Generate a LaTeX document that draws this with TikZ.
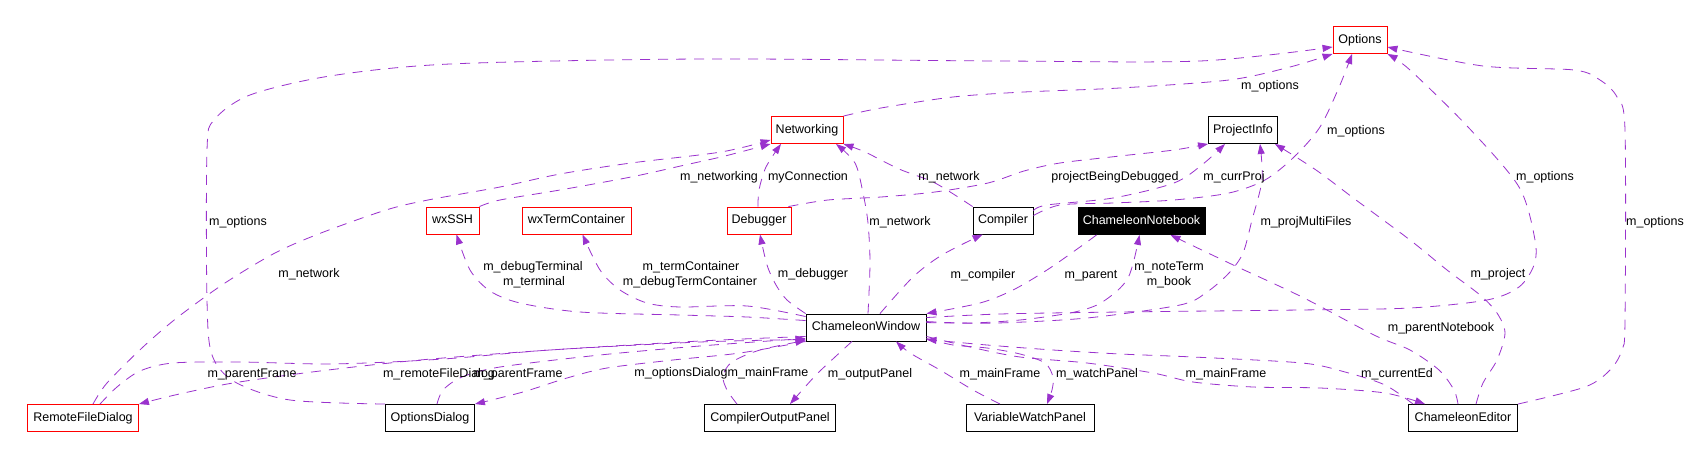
\documentclass[tikz,border=0pt]{standalone}
\usepackage{fontspec}
\setmainfont{Liberation Sans}
\usetikzlibrary{arrows.meta}
\definecolor{depcol}{HTML}{9A32CD}
\definecolor{boxred}{HTML}{FF0000}
\begin{document}
\begin{tikzpicture}[x=1pt,y=-1pt,
  font=\fontsize{12.5}{15}\selectfont,
  cls/.style={draw=black, line width=0.9pt, minimum height=27pt, inner sep=0pt, text height=9pt, text depth=2.6pt},
  redcls/.style={cls, draw=boxred},
  focus/.style={cls, fill=black, text=white},
  lbl/.style={inner sep=0pt, text height=9pt, text depth=2.6pt},
  dep/.style={draw=depcol, line width=0.8pt, dash pattern=on 10pt off 8pt, -{Triangle[length=10pt,width=7pt]}},
  sm/.style={smooth, tension=0.5}]
\path[use as bounding box, fill=white] (0,0) rectangle (1689,449);

% nodes
\node[redcls, minimum width=54pt]  (opt)   at (1360,40)    {Options};
\node[redcls, minimum width=72pt]  (net)   at (807,130)    {Networking};
\node[cls,    minimum width=69pt]  (pinfo) at (1243,130)   {ProjectInfo};
\node[redcls, minimum width=53pt]  (ssh)   at (452.5,220.5) {wxSSH};
\node[redcls, minimum width=109pt] (term)  at (576.5,220.5) {wxTermContainer};
\node[redcls, minimum width=64pt]  (dbg)   at (759,220.5)  {Debugger};
\node[cls,    minimum width=60pt]  (comp)  at (1003,220.5) {Compiler};
\node[focus,  minimum width=127pt] (nb)    at (1141.5,221) {ChameleonNotebook};
\node[cls,    minimum width=120pt] (cw)    at (866,327.5)  {ChameleonWindow};
\node[redcls, minimum width=111pt] (rfd)   at (83,418)     {RemoteFileDialog};
\node[cls,    minimum width=89pt]  (od)    at (430,418)    {OptionsDialog};
\node[cls,    minimum width=131pt] (cop)   at (770,418)    {CompilerOutputPanel};
\node[cls,    minimum width=128pt] (vwp)   at (1030,418)   {VariableWatchPanel};
\node[cls,    minimum width=109pt] (ce)    at (1463,418)   {ChameleonEditor};

% edges
\draw[dep] plot[sm] coordinates {(od.north west) (290,400) (235,382) (212,355) (207,300) (207,150) (214,120) (250,95) (330,76) (450,64) (700,59) (1000,61) (1200,61) ([shift={(0,7)}]opt.west)};
\draw[dep] plot[sm] coordinates {(net.north east) (881,108) (953,97) (1024,92) (1120,88) (1229,80) (1290,67) (opt.south west)};
\draw[dep] plot[sm] coordinates {([shift={(0,-5)}]comp.east) (1060,205) (1113,203) (1174,200) (1229,193) (1265,180) (1294,157) (1320,127) (1340,85) ([shift={(-8,0)}]opt.south)};
\draw[dep] plot[sm] coordinates {([shift={(0,4)}]cw.north east) (1000,314) (1120,312) (1300,310) (1410,308) (1487,300) (1519,287) (1534,265) (1535,240) (1519,187) (1468,127) (1410,70) (opt.south east)};
\draw[dep] plot[sm] coordinates {(ce.north east) (1585,387) (1610,370) (1622,350) (1625,320) (1625,130) (1617,97) (1600,80) (1574,70) (1483,66) ([shift={(0,7)}]opt.east)};
\draw[dep] plot[sm] coordinates {([shift={(13,0)}]ce.north) (1483,383) (1497,360) (1505,333) (1497,313) (1480,295) (1447,270) (1410,240) (1356,200) (1316,170) ([shift={(-3,0)}]pinfo.south east)};
\draw[dep] plot[sm] coordinates {([shift={(-5,0)}]ce.north) (1454,390) (1439,370) (1410,350) (1374,335) (1302,297) (1229,263) ([shift={(-35,0)}]nb.south east)};
\draw[dep] plot[sm] coordinates {([shift={(5,0)}]ce.north west) (1385,385) (1345,372) (1302,363) (1193,357) (1120,354) (1053,350) (987,345) ([shift={(0,-2)}]cw.south east)};
\draw[dep] plot[sm] coordinates {([shift={(0,-5)}]cw.south east) (970,347) (1020,357) (1087,363) (1153,373) (1193,382) (1253,387) (1320,388) (1385,393) ([shift={(-38,0)}]ce.north)};
\draw[dep] plot[sm] coordinates {([shift={(-30,0)}]vwp.north) (973,390) (940,370) (910,353) ([shift={(30,0)}]cw.south)};
\draw[dep] plot[sm] coordinates {([shift={(0,-3)}]cw.south east) (953,345) (987,348) (1020,354) (1045,363) (1053,377) (1052,390) ([shift={(17,0)}]vwp.north)};
\draw[dep] plot[sm] coordinates {([shift={(-14,0)}]cw.south) (835,357) (815,376) ([shift={(20,0)}]cop.north)};
\draw[dep] plot[sm] coordinates {([shift={(-33,0)}]cop.north) (727,390) (723,376) (732,362) (760,350) ([shift={(0,-1)}]cw.south west)};
\draw[dep] plot[sm] coordinates {(cw.south west) (740,353) (673,360) (607,368) (567,378) (523,392) (od.north east)};
\draw[dep] plot[sm] coordinates {([shift={(7,0)}]od.north) (443,390) (462,377) (500,367) (600,355) (700,346) ([shift={(0,-3)}]cw.south west)};
\draw[dep] plot[sm] coordinates {([shift={(0,-5)}]cw.south west) (700,341) (550,350) (420,360) (320,371) (233,383) (175,395) (rfd.north east)};
\draw[dep] plot[sm] coordinates {([shift={(17,0)}]rfd.north) (117,387) (140,371) (173,363) (240,362) (323,364) (390,362) (457,358) (550,350) (700,342) ([shift={(0,-2)}]cw.south west)};
\draw[dep] plot[sm] coordinates {([shift={(10,0)}]rfd.north) (107,383) (143,347) (178,317) (225,283) (275,253) (321,233) (386,210) (428,200) (500,187) (560,174) (631,163) (721,152) ([shift={(0,-4)}]net.south west)};
\draw[dep] plot[sm] coordinates {(ssh.north east) (500,200) (560,190) (631,177) (685,165) (725,156) (net.south west)};
\draw[dep] plot[sm] coordinates {([shift={(-1,0)}]dbg.north) (759,190) (766,167) ([shift={(-26,0)}]net.south)};
\draw[dep] plot[sm] coordinates {([shift={(2,0)}]cw.north) (870,263) (868,223) (863,193) (855,163) ([shift={(29,0)}]net.south)};
\draw[dep] plot[sm] coordinates {(comp.north west) (935,183) (899,169) (865,152) (net.south east)};
\draw[dep] plot[sm] coordinates {([shift={(-3,0)}]dbg.north east) (828,200) (881,197) (935,192) (988,183) (1024,171) (1060,163) (1120,156) (1174,150) (pinfo.south west)};
\draw[dep] plot[sm] coordinates {([shift={(0,-10)}]comp.east) (1047,205) (1113,198) (1174,183) (1203,164) ([shift={(-18,0)}]pinfo.south)};
\draw[dep] plot[sm] coordinates {([shift={(0,9)}]cw.north east) (997,323) (1087,318) (1180,305) (1207,292) (1229,273) (1243,253) (1252,220) (1262,180) ([shift={(17,0)}]pinfo.south)};
\draw[dep] plot[sm] coordinates {([shift={(0,8)}]cw.north east) (970,323) (1020,320) (1070,313) (1097,305) (1117,291) (1128,278) (1134,260) ([shift={(-2,0)}]nb.south)};
\draw[dep] plot[sm] coordinates {([shift={(19,0)}]nb.south west) (1080,247) (1047,270) (1013,290) (980,303) (cw.north east)};
\draw[dep] plot[sm] coordinates {([shift={(14,0)}]cw.north) (913,277) (942,255) ([shift={(10,0)}]comp.south west)};
\draw[dep] plot[sm] coordinates {(cw.north west) (787,300) (776,285) (767,265) ([shift={(1,0)}]dbg.south)};
\draw[dep] plot[sm] coordinates {([shift={(0,3)}]cw.north west) (747,306) (680,307) (647,303) (620,290) (600,270) ([shift={(6,0)}]term.south)};
\draw[dep] plot[sm] coordinates {([shift={(0,7)}]cw.north west) (747,317) (680,315) (580,312) (520,303) (490,291) (470,270) ([shift={(4,0)}]ssh.south)};

% labels
\node[lbl] (l1)  at (238,222)  {m\_options};
\node[lbl] (l2)  at (1270,86)  {m\_options};
\node[lbl] (l3)  at (1356,131) {m\_options};
\node[lbl] (l4)  at (1545,177) {m\_options};
\node[lbl] (l5)  at (1655,222) {m\_options};
\node[lbl] (l6)  at (1498,274) {m\_project};
\node[lbl] (l7)  at (1441,328) {m\_parentNotebook};
\node[lbl] (l8)  at (1226,374) {m\_mainFrame};
\node[lbl] (l9)  at (1397,374) {m\_currentEd};
\node[lbl] (l10) at (1000,374) {m\_mainFrame};
\node[lbl] (l11) at (1097,374) {m\_watchPanel};
\node[lbl] (l12) at (870,374)  {m\_outputPanel};
\node[lbl] (l13) at (768,373)  {m\_mainFrame};
\node[lbl] (l14) at (681,373)  {m\_optionsDialog};
\node[lbl] (l15) at (518,374)  {m\_parentFrame};
\node[lbl] (l16) at (439,374)  {m\_remoteFileDialog};
\node[lbl] (l17) at (252,374)  {m\_parentFrame};
\node[lbl] (l18) at (309,274)  {m\_network};
\node[lbl] (l19) at (719,177)  {m\_networking};
\node[lbl] (l20) at (808,177)  {myConnection};
\node[lbl] (l21) at (900,222)  {m\_network};
\node[lbl] (l22) at (949,177)  {m\_network};
\node[lbl] (l23) at (1115,177) {projectBeingDebugged};
\node[lbl] (l24) at (1234,177) {m\_currProj};
\node[lbl] (l25) at (1306,222) {m\_projMultiFiles};
\node[lbl] (l26a) at (1169,267) {m\_noteTerm};
\node[lbl] (l26b) at (1169,282) {m\_book};
\node[lbl] (l27) at (1091,275) {m\_parent};
\node[lbl] (l28) at (983,275)  {m\_compiler};
\node[lbl] (l29) at (813,274)  {m\_debugger};
\node[lbl] (l30a) at (691,267) {m\_termContainer};
\node[lbl] (l30b) at (690,282) {m\_debugTermContainer};
\node[lbl] (l31a) at (533,267) {m\_debugTerminal};
\node[lbl] (l31b) at (534,282) {m\_terminal};
\end{tikzpicture}
\end{document}
